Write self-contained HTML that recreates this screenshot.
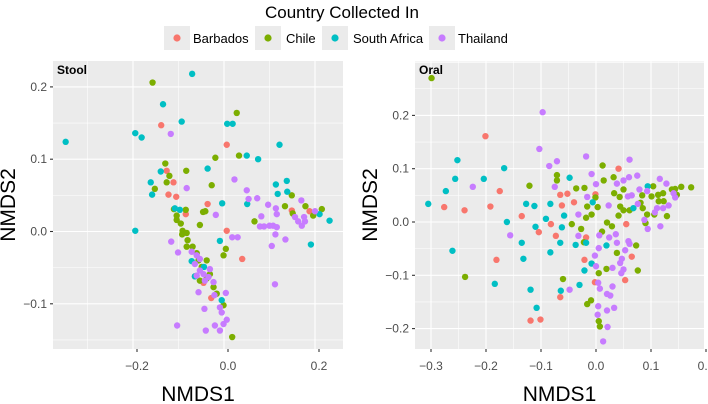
<!DOCTYPE html>
<html><head><meta charset="utf-8"><style>
html,body{margin:0;padding:0;background:#fff;}
svg{display:block;font-family:"Liberation Sans",Arial,sans-serif;}
</style></head><body>
<svg id="chart" width="708" height="404" viewBox="0 0 708 404" xmlns="http://www.w3.org/2000/svg">
<text x="342" y="18" font-size="17" text-anchor="middle" fill="#000">Country Collected In</text>
<g id="legend"></g>
<g id="stool"></g>
<g id="oral"></g>
</svg>
<script>
const countries = ["Barbados","Chile","South Africa","Thailand"];
const colors = ["#F8766D","#7CAE00","#00BFC4","#C77CFF"];

const stoolBarbadosX = [-0.138,0.006,-0.126,-0.111,-0.122,-0.105,-0.036,-0.084,0.006,0.040,0.149,0.188,-0.064,-0.045,-0.028];
const stoolBarbadosY = [0.147,0.120,0.084,0.068,0.051,0.048,0.038,0.024,0.001,-0.038,0.029,0.028,-0.062,-0.071,-0.092];
const stoolChileX = [-0.157,0.028,0.033,-0.019,-0.083,-0.129,-0.120,-0.126,-0.152,-0.027,-0.046,-0.041,-0.053,0.149,0.134,0.151,0.179,0.215,0.196,0.067,-0.110,-0.104,-0.084,-0.104,-0.095,-0.091,-0.082,-0.092,-0.080,-0.082,-0.069,-0.060,-0.056,-0.049,-0.038,-0.031,-0.053,-0.038,-0.023,-0.016,-0.001,0.004,-0.001,0.018];
const stoolChileY = [0.206,0.164,0.105,0.102,0.084,0.094,0.077,0.068,0.059,0.064,0.027,0.028,0.009,0.050,0.035,0.025,0.035,0.031,0.022,0.014,0.031,0.022,0.030,0.016,0.011,0.001,-0.002,-0.004,-0.012,-0.021,-0.021,-0.030,-0.040,-0.049,-0.040,-0.059,-0.068,-0.065,-0.077,-0.086,-0.102,-0.024,-0.033,-0.146];
const stoolSouthAfricaX = [-0.348,-0.070,-0.134,-0.093,-0.195,-0.181,0.007,0.019,0.122,0.050,0.075,-0.139,-0.161,-0.158,-0.036,0.114,0.138,0.118,0.139,-0.108,-0.097,-0.004,0.051,-0.195,0.191,0.210,0.232,-0.009,-0.071,-0.064,-0.005,-0.044];
const stoolSouthAfricaY = [0.124,0.218,0.176,0.152,0.136,0.130,0.149,0.149,0.120,0.105,0.100,0.083,0.068,0.051,0.087,0.065,0.070,0.052,0.055,0.032,0.030,0.039,0.038,0.001,-0.018,0.024,0.015,-0.013,-0.041,-0.062,-0.095,-0.049];
const stoolThailandX = [-0.117,-0.082,0.023,0.050,0.054,0.073,0.097,0.114,0.116,0.082,-0.018,-0.116,-0.101,0.018,0.030,0.079,0.088,0.100,0.108,0.116,0.113,0.105,0.135,0.112,0.156,0.163,0.171,0.178,0.176,0.170,0.200,-0.071,-0.060,-0.053,-0.064,-0.053,-0.060,-0.045,-0.034,-0.031,-0.042,-0.023,-0.056,-0.043,-0.021,-0.009,-0.005,0.006,-0.001,-0.009,-0.020,-0.040,-0.103,0.004];
const stoolThailandY = [0.135,0.060,0.072,0.057,0.045,0.046,0.037,0.032,0.024,0.021,0.023,-0.014,-0.029,-0.008,-0.008,0.007,0.007,0.008,0.008,0.006,-0.004,-0.020,-0.011,-0.073,0.020,0.014,0.008,0.014,0.020,0.043,0.028,-0.028,-0.033,-0.038,-0.045,-0.054,-0.061,-0.059,-0.063,-0.052,-0.068,-0.070,-0.084,-0.107,-0.088,-0.105,-0.112,-0.122,-0.128,-0.137,-0.130,-0.137,-0.130,-0.085];

const oralBarbadosX = [-0.201,-0.276,-0.239,-0.192,-0.175,-0.181,-0.135,-0.104,-0.082,-0.073,-0.062,-0.065,-0.052,-0.040,-0.018,-0.021,-0.002,-0.065,-0.119,-0.101,-0.001,0.041,0.055,0.065,0.053];
const oralBarbadosY = [0.161,0.028,0.022,0.029,0.058,-0.071,0.011,-0.019,-0.004,-0.026,0.031,0.051,0.053,0.037,-0.029,-0.071,-0.113,-0.141,-0.185,-0.183,0.052,0.100,-0.004,-0.065,-0.109];
const oralChileX = [-0.299,-0.238,-0.121,-0.071,-0.071,-0.044,-0.036,-0.021,-0.027,-0.018,-0.016,-0.008,-0.022,-0.060,-0.016,-0.009,0.005,0.019,0.005,0.007,0.012,0.014,-0.001,0.003,0.020,0.029,0.011,0.032,0.033,0.043,0.050,0.041,0.050,0.061,0.044,0.038,0.073,0.076,0.084,0.085,0.090,0.093,0.101,0.104,0.113,0.122,0.123,0.129,0.138,0.144,0.147,0.155,0.173,0.106,0.114,0.081];
const oralChileY = [0.270,-0.103,0.068,0.088,0.078,-0.004,0.063,0.064,-0.013,0.008,0.029,0.014,-0.038,-0.107,-0.154,-0.147,-0.096,-0.088,-0.186,-0.196,0.106,0.078,0.046,0.028,-0.001,-0.008,-0.018,0.084,0.054,0.047,0.061,0.012,0.022,0.022,0.029,-0.058,-0.044,-0.091,0.050,0.026,-0.002,0.014,0.048,0.067,0.051,0.054,0.039,0.011,0.061,0.062,0.051,0.066,0.065,0.014,0.039,0.036];
const oralSouthAfricaX = [-0.305,-0.252,-0.273,-0.256,-0.204,-0.167,-0.162,-0.261,-0.184,-0.127,-0.112,-0.083,-0.091,-0.110,-0.135,-0.132,-0.083,-0.058,-0.062,-0.065,-0.048,-0.037,-0.018,-0.119,-0.108,-0.064,-0.030,-0.021,-0.008,0.019,-0.006,0.068,0.094];
const oralSouthAfricaY = [0.034,0.116,0.058,0.081,0.081,0.101,0.000,-0.054,-0.116,0.034,0.030,0.034,0.006,-0.009,-0.039,-0.069,-0.057,0.012,-0.010,-0.039,0.083,-0.043,-0.039,-0.127,-0.161,-0.129,-0.118,-0.091,-0.078,-0.044,0.037,0.026,0.067];
const oralThailandX = [-0.097,-0.103,-0.071,-0.085,-0.075,-0.224,-0.156,-0.018,-0.008,0.000,-0.016,-0.032,-0.032,-0.002,0.005,0.006,0.023,0.024,0.036,0.038,0.038,0.050,0.061,0.060,0.075,0.079,0.058,0.065,0.076,0.093,0.088,0.094,0.117,0.107,0.111,0.116,0.128,0.132,0.122,0.141,0.144,0.059,0.061,0.053,0.047,0.044,0.050,0.046,0.030,0.000,0.004,0.007,0.020,0.026,0.030,0.033,0.020,0.004,0.003,0.021,0.013,-0.048];
const oralThailandY = [0.206,0.137,0.114,0.105,0.066,0.066,-0.025,0.123,0.090,0.071,0.047,0.014,-0.026,-0.063,-0.049,-0.025,0.031,-0.029,-0.023,-0.039,0.072,0.078,0.117,0.084,0.087,0.061,0.048,0.050,0.034,0.058,0.004,-0.013,-0.008,0.018,0.026,0.081,0.072,0.031,0.026,0.054,0.046,-0.036,-0.041,-0.053,-0.069,-0.077,-0.089,-0.096,-0.086,-0.083,-0.114,-0.125,-0.135,-0.138,-0.121,-0.161,-0.166,-0.158,-0.174,-0.197,-0.224,-0.127];

const xTicksStool = [-0.2, 0.0, 0.2];
const xTickLabelsStool = ["\u22120.2","0.0","0.2"];
const yTicksStool = [-0.1, 0.0, 0.1, 0.2];
const yTickLabelsStool = ["\u22120.1","0.0","0.1","0.2"];
const xTicksOral = [-0.3,-0.2,-0.1,0.0,0.1,0.2];
const xTickLabelsOral = ["\u22120.3","\u22120.2","\u22120.1","0.0","0.1","0.2"];
const yTicksOral = [-0.2,-0.1,0.0,0.1,0.2];
const yTickLabelsOral = ["\u22120.2","\u22120.1","0.0","0.1","0.2"];

const NS = "http://www.w3.org/2000/svg";
function mk(tag, attrs, parent){
  const e = document.createElementNS(NS, tag);
  for (const k in attrs) e.setAttribute(k, attrs[k]);
  parent.appendChild(e);
  return e;
}

// legend
const leg = document.getElementById("legend");
const keyX = [164, 255, 322, 429];
const textX = [193, 286, 353, 458];
countries.forEach((c, i) => {
  const r = mk("rect", {x: keyX[i], y: 26, width: 26, height: 24, fill: "#ebebeb"}, leg);
  
  
  const d = mk("circle", {cx: keyX[i] + 13, cy: 38, r: 3.6, fill: colors[i]}, leg);
  
  
  const t = mk("text", {x: textX[i], y: 43, "font-size": 13, fill: "#000"}, leg);
  t.textContent = c;
  
  
});

function panel(gid, cfg, series, title){
  const g = document.getElementById(gid);
  const sx = v => cfg.x0 + v * cfg.kx;
  const sy = v => cfg.y0 - v * cfg.ky;
  const bg = mk("rect", {x: cfg.L, y: cfg.T, width: cfg.R - cfg.L, height: cfg.B - cfg.T, fill: "#ebebeb"}, g);
  
  
  // grid
  for (let v = cfg.xmin; v <= cfg.xmax + 1e-9; v += cfg.xstep / 2) {
    const px = sx(v);
    if (px < cfg.L || px > cfg.R) continue;
    const major = Math.abs(Math.round(v / cfg.xstep) * cfg.xstep - v) < 1e-6;
    const l = mk("line", {x1: px, x2: px, y1: cfg.T, y2: cfg.B, stroke: "#fff", "stroke-width": major ? 1.1 : 0.55}, g);
    
    
  }
  for (let v = cfg.ymin; v <= cfg.ymax + 1e-9; v += cfg.ystep / 2) {
    const py = sy(v);
    if (py < cfg.T || py > cfg.B) continue;
    const major = Math.abs(Math.round(v / cfg.ystep) * cfg.ystep - v) < 1e-6;
    const l = mk("line", {x1: cfg.L, x2: cfg.R, y1: py, y2: py, stroke: "#fff", "stroke-width": major ? 1.1 : 0.55}, g);
    
    
  }
  // ticks
  cfg.xt.forEach((v, i) => {
    const px = sx(v) + cfg.xtOff;
    const t = mk("line", {x1: px, x2: px, y1: cfg.B, y2: cfg.B + 3, stroke: "#333", "stroke-width": 1.1}, g);
    
    
    const tx = mk("text", {x: px, y: cfg.B + 21, "font-size": 12, "text-anchor": "middle", fill: "#4d4d4d"}, g);
    tx.textContent = cfg.xl[i];
    
    
  });
  cfg.yt.forEach((v, i) => {
    const py = sy(v);
    const t = mk("line", {x1: cfg.L - 3, x2: cfg.L, y1: py, y2: py, stroke: "#333", "stroke-width": 1.1}, g);
    
    
    const tx = mk("text", {x: cfg.L - 6, y: py + 4, "font-size": 12, "text-anchor": "end", fill: "#4d4d4d"}, g);
    tx.textContent = cfg.yl[i];
    
    
  });
  // points
  series.forEach((s, ci) => {
    s[0].forEach((xv, j) => {
      const c = mk("circle", {cx: sx(xv), cy: sy(s[1][j]), r: 3.2, fill: colors[ci]}, g);
      
      
    });
  });
  const pt = mk("text", {x: cfg.L + 4, y: cfg.T + 13, "font-size": 12, "font-weight": "bold", fill: "#000"}, g);
  pt.textContent = title;
  
  
  const xa = mk("text", {x: (cfg.L + cfg.R) / 2, y: 401, "font-size": 21, "text-anchor": "middle", fill: "#000"}, g);
  xa.textContent = "NMDS1";
  
  
  const yx = cfg.L - 38, yy = (cfg.T + cfg.B) / 2;
  const ya = mk("text", {x: yx, y: yy, "font-size": 21, "text-anchor": "middle", fill: "#000", transform: "rotate(-90 " + yx + " " + yy + ")"}, g);
  ya.textContent = "NMDS2";
  
  
}

panel("stool", {L: 53, R: 343, T: 61, B: 349, x0: 224, kx: 455, y0: 231.5, ky: 723,
  xmin: -0.4, xmax: 0.4, xstep: 0.2, ymin: -0.2, ymax: 0.3, ystep: 0.1,
  xt: xTicksStool, xl: xTickLabelsStool, xtOff: 4, yt: yTicksStool, yl: yTickLabelsStool},
  [[stoolBarbadosX, stoolBarbadosY],[stoolChileX, stoolChileY],[stoolSouthAfricaX, stoolSouthAfricaY],[stoolThailandX, stoolThailandY]], "Stool");

panel("oral", {L: 415, R: 704, T: 61, B: 349, x0: 596, kx: 550, y0: 222, ky: 533,
  xmin: -0.4, xmax: 0.3, xstep: 0.1, ymin: -0.3, ymax: 0.3, ystep: 0.1,
  xt: xTicksOral, xl: xTickLabelsOral, xtOff: 0, yt: yTicksOral, yl: yTickLabelsOral},
  [[oralBarbadosX, oralBarbadosY],[oralChileX, oralChileY],[oralSouthAfricaX, oralSouthAfricaY],[oralThailandX, oralThailandY]], "Oral");
</script>
</body></html>
